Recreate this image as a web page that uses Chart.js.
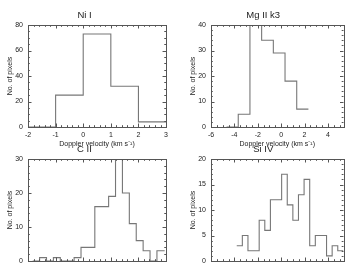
<!DOCTYPE html>
<html>
<head>
<meta charset="utf-8">
<script src="https://cdn.jsdelivr.net/npm/chart.js@4.4.1/dist/chart.umd.min.js"></script>
<style>
  html, body { margin: 0; padding: 0; background: #fff; overflow: hidden; }
  body { width: 345px; height: 267px; position: relative; }
  .panel { position: absolute; overflow: hidden; }
</style>
</head>
<body>
<div class="panel" style="left:0;top:0;width:172px;height:148px"><canvas id="ni" width="172" height="148"></canvas></div>
<div class="panel" style="left:183px;top:0;width:162px;height:148px"><canvas id="mg" width="162" height="148"></canvas></div>
<div class="panel" style="left:0;top:134px;width:172px;height:130px"><canvas id="cii" width="172" height="148"></canvas></div>
<div class="panel" style="left:183px;top:134px;width:162px;height:130px"><canvas id="si" width="162" height="148"></canvas></div>
<script>
// --- Datos (bordes de bins y cuentas) ---
const niEdges = [-2, -1, 0, 1, 2, 3];
const niCounts = [0, 25, 73, 32, 4];

const mgEdges = [-4.67, -3.67, -2.67, -1.67, -0.67, 0.33, 1.33, 2.33];
const mgCounts = [0, 5, 48, 34, 29, 18, 7];

const ciiEdges = [-1.83, -1.58, -1.33, -1.08, -0.83, -0.58, -0.33, -0.08, 0.17, 0.42,
                  0.67, 0.92, 1.17, 1.42, 1.67, 1.92, 2.17, 2.42, 2.67, 2.95];
const ciiCounts = [0, 1, 0, 1, 0, 0, 1, 4, 4, 16, 16, 19, 38, 20, 11, 6, 3, 0, 3];

const siEdges = [-3.8, -3.32, -2.84, -2.36, -1.88, -1.40, -0.92, -0.44, 0.04, 0.52,
                 1.00, 1.48, 1.96, 2.44, 2.92, 3.40, 3.88, 4.36, 4.84, 5.32];
const siCounts = [3, 5, 2, 2, 8, 6, 12, 12, 17, 11, 8, 13, 16, 3, 5, 5, 1, 3, 2];

// --- Ticks ---
const niXTicks = [-2, -1, 0, 1, 2, 3];
const niYTicks = [0, 20, 40, 60, 80];
const mgXTicks = [-6, -4, -2, 0, 2, 4];
const mgYTicks = [0, 10, 20, 30, 40];
const ciiXTicks = [-2, -1, 0, 1, 2, 3];
const ciiYTicks = [0, 10, 20, 30];
const siXTicks = [-6, -4, -2, 0, 2, 4];
const siYTicks = [0, 5, 10, 15, 20];

Chart.defaults.font.family = "'Liberation Sans', Arial, sans-serif";
Chart.defaults.color = "#222";

// marco tipo IDL con ticks hacia adentro
const idlFrame = {
    id: "idlFrame",
    afterDatasetsDraw(chart, args, opts) {
        const { ctx, chartArea: a, scales } = chart;
        const r = (v) => Math.round(v) + 0.5;
        ctx.save();
        ctx.strokeStyle = "#555";
        ctx.lineWidth = 1;
        ctx.strokeRect(r(a.left), r(a.top), Math.round(a.right) - Math.round(a.left), Math.round(a.bottom) - Math.round(a.top));
        ctx.beginPath();
        const marks = (scale, nMinor) => {
            const vals = scale.ticks.map((t) => t.value);
            const out = [];
            const step = (vals[1] - vals[0]) / nMinor;
            for (let v = vals[0] - step * nMinor; v <= scale.max + 1e-9; v += step) {
                if (v < scale.min - 1e-9) continue;
                const k = Math.round((v - vals[0]) / step);
                out.push({ px: scale.getPixelForValue(v), major: k % nMinor === 0 });
            }
            return out;
        };
        marks(scales.x, opts.xMinor).forEach((m) => {
            const len = m.major ? 3.5 : 1.8;
            const px = r(m.px);
            ctx.moveTo(px, a.bottom); ctx.lineTo(px, a.bottom - len);
            ctx.moveTo(px, a.top); ctx.lineTo(px, a.top + len);
        });
        marks(scales.y, opts.yMinor).forEach((m) => {
            const len = m.major ? 3.5 : 1.8;
            const py = r(m.px);
            ctx.moveTo(a.left, py); ctx.lineTo(a.left + len, py);
            ctx.moveTo(a.right, py); ctx.lineTo(a.right - len, py);
        });
        ctx.stroke();
        ctx.restore();
    },
};

function stepPoints(edges, counts) {
    const pts = counts.map((c, i) => ({ x: edges[i], y: c }));
    pts.push({ x: edges[edges.length - 1], y: counts[counts.length - 1] });
    return pts;
}

function makePanel(id, title, edges, counts, xTicks, yTicks, xMin, xMax, yMax, xMinor, yMinor, padRight) {
    new Chart(document.getElementById(id), {
        type: "line",
        data: {
            datasets: [{
                data: stepPoints(edges, counts),
                stepped: "before",
                borderColor: "#777",
                borderWidth: 1.1,
                pointRadius: 0,
                fill: false,
            }],
        },
        options: {
            responsive: false,
            animation: false,
            devicePixelRatio: 1,
            layout: { padding: { left: 0, right: padRight, top: 0, bottom: 0 } },
            plugins: {
                legend: { display: false },
                tooltip: { enabled: false },
                title: {
                    display: true,
                    text: title,
                    color: "#222",
                    font: { size: 9.5, weight: "normal", lineHeight: 1.2 },
                    padding: { top: 9.5, bottom: 4.1 },
                },
                idlFrame: { xMinor: xMinor, yMinor: yMinor },
            },
            scales: {
                x: {
                    type: "linear",
                    min: xMin,
                    max: xMax,
                    grid: { display: false, drawTicks: false },
                    border: { display: false },
                    afterBuildTicks: (s) => { s.ticks = xTicks.map((v) => ({ value: v })); },
                    afterFit: (s) => { s.height = 21; },
                    ticks: { padding: 4, maxRotation: 0, autoSkip: false, font: { size: 7 }, color: "#222" },
                    title: {
                        display: true,
                        text: "Doppler velocity (km s\u207B\u00B9)",
                        font: { size: 7, lineHeight: 1.2 },
                        color: "#222",
                        padding: { top: 0, bottom: 0 },
                    },
                },
                y: {
                    type: "linear",
                    min: 0,
                    max: yMax,
                    grid: { display: false, drawTicks: false },
                    border: { display: false },
                    afterBuildTicks: (s) => { s.ticks = yTicks.map((v) => ({ value: v })); },
                    afterFit: (s) => { s.width = 28; },
                    ticks: { padding: 5, autoSkip: false, font: { size: 7 }, color: "#222" },
                    title: {
                        display: true,
                        text: "No. of pixels",
                        font: { size: 7, lineHeight: 1.2 },
                        color: "#222",
                        padding: { top: 6, bottom: 0 },
                    },
                },
            },
        },
        plugins: [idlFrame],
    });
}

makePanel("ni", "Ni I", niEdges, niCounts, niXTicks, niYTicks, -2, 3, 80, 5, 4, 3);
makePanel("mg", "Mg II k3", mgEdges, mgCounts, mgXTicks, mgYTicks, -6, 5.33, 40, 4, 5, 1.5);
makePanel("cii", "C II", ciiEdges, ciiCounts, ciiXTicks, ciiYTicks, -2, 3, 30, 5, 5, 3);
makePanel("si", "Si IV", siEdges, siCounts, siXTicks, siYTicks, -6, 5.33, 20, 4, 5, 1.5);
</script>
</body>
</html>
